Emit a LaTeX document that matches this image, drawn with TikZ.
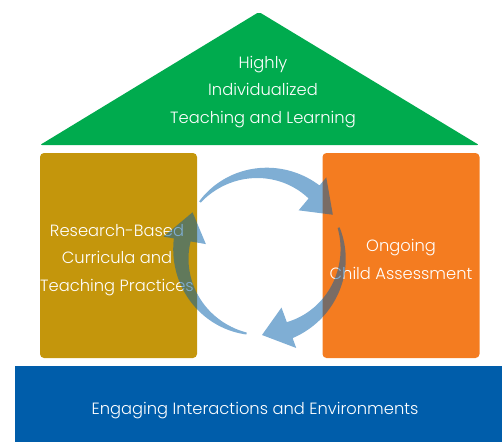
\documentclass[tikz,border=0pt]{standalone}
\usepackage{fontspec}
\setmainfont{Poppins}[UprightFont=* Light]
\definecolor{roofgreen}{HTML}{00AB4E}
\definecolor{pillargold}{HTML}{C4960C}
\definecolor{pillarorange}{HTML}{F47C20}
\definecolor{basebluec}{HTML}{005DAA}
\newcommand{\cyclearrow}[4]{%
  \fill[arrowfill] plot[domain=#1:#2,samples=40] (\x:{81+0.5*(2+#4*(\x-#1)/(#2-#1))})
    -- (#2:100) -- (#3:81) -- (#2:57)
    -- plot[domain=#2:#1,samples=40] (\x:{81-0.5*(2+#4*(\x-#1)/(#2-#1))}) -- cycle;}
\begin{document}
\begin{tikzpicture}[x=1pt,y=-1pt,
  label/.style={text=white,align=center,font=\fontsize{16.3}{27.3}\selectfont,inner sep=0pt},
  pillar/.style={rounded corners=4pt,minimum width=157pt,minimum height=205pt,inner sep=0pt},
  arrowfill/.style={fill=basebluec,fill opacity=0.5}]
\useasboundingbox (0,0) rectangle (502,442);
% roof
\fill[roofgreen,rounded corners=2pt] (40,145) -- (259,12) -- (479,145) -- cycle;
\node[label] (roof) at (263,92) {Highly\\Individualized\\Teaching and Learning};
% pillars
\node[pillar,fill=pillargold] (left) at (118.5,255.5) {};
\node[pillar,fill=pillarorange] (right) at (401,255.5) {};
\node[label] (lefttext) at (117,260) {Research-Based\\Curricula and\\Teaching Practices};
\node[label] (righttext) at (401,259.5) {Ongoing\\Child Assessment};
% base
\fill[basebluec] (15,366) rectangle (502,442);
\node[label] (basetext) at (255,411) {Engaging Interactions and Environments};
% cycle arrows
\begin{scope}[shift={(262,254)}]
\cyclearrow{220}{310}{331}{15}
\cyclearrow{341}{430}{450}{15}
\cyclearrow{101}{190}{211}{15}
\end{scope}
\end{tikzpicture}
\end{document}
